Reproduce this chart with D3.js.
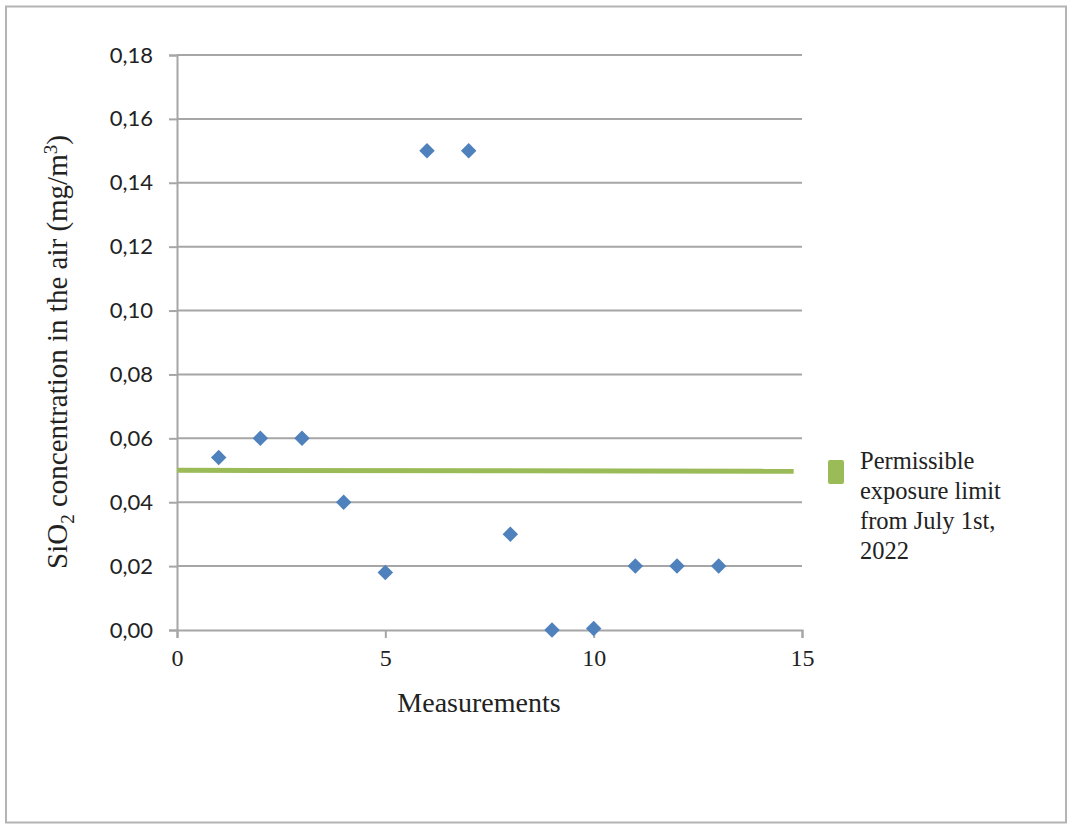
<!DOCTYPE html>
<html>
<head>
<meta charset="utf-8">
<script src="https://cdn.jsdelivr.net/npm/d3@7"></script>
<style>
  body { margin: 0; background: white; }
</style>
</head>
<body>
<div class="chart"></div>
<script>
// measurement number and SiO2 concentration (mg/m3)
const measurements = [1, 2, 3, 4, 5, 6, 7, 8, 9, 10, 11, 12, 13];
const concentration = [0.054, 0.06, 0.06, 0.04, 0.018, 0.15, 0.15, 0.03, 0.0, 0.0005, 0.02, 0.02, 0.02];
// permissible exposure limit line
const limitX = [0, 14.8];
const limitY = [0.05, 0.0497];
const xTicks = [0, 5, 10, 15];
const yTicks = [0, 0.02, 0.04, 0.06, 0.08, 0.10, 0.12, 0.14, 0.16, 0.18];
const legendLines = ['Permissible', 'exposure limit', 'from July 1st,', '2022'];

const width = 1073;
const height = 829;

const svg = d3
  .select('.chart')
  .append('svg')
  .attr('width', width)
  .attr('height', height);

svg
  .append('rect')
  .attr('x', 6)
  .attr('y', 6.5)
  .attr('width', 1060)
  .attr('height', 816)
  .attr('fill', 'white')
  .attr('stroke', '#b4b4b4')
  .attr('stroke-width', 2);

const x = d3.scaleLinear().domain([0, 15]).range([177, 802]);
const y = d3.scaleLinear().domain([0, 0.18]).range([630, 55]);

// gridlines
svg
  .append('g')
  .selectAll('line')
  .data(yTicks.slice(1))
  .enter()
  .append('line')
  .attr('x1', x(0))
  .attr('x2', x(15))
  .attr('y1', (d) => y(d))
  .attr('y2', (d) => y(d))
  .attr('stroke', '#a6a6a6')
  .attr('stroke-width', 2);

const fmt = (d) => d3.format('.2f')(d).replace('.', ',');

const yAxis = svg
  .append('g')
  .attr('transform', 'translate(' + x(0) + ',0)')
  .call(d3.axisLeft(y).tickValues(yTicks).tickFormat(fmt).tickSize(8).tickPadding(16));

const xAxis = svg
  .append('g')
  .attr('transform', 'translate(0,' + y(0) + ')')
  .call(d3.axisBottom(x).tickValues(xTicks).tickSize(8).tickPadding(11));

[yAxis, xAxis].forEach((a) => {
  a.select('.domain').attr('stroke', '#a6a6a6').attr('stroke-width', 2);
  a.selectAll('.tick line').attr('stroke', '#a6a6a6').attr('stroke-width', 2);
});

yAxis
  .selectAll('.tick text')
  .attr('fill', '#222')
  .style('font-family', 'Lato, "Noto Sans", sans-serif')
  .style('font-size', '22px');

xAxis
  .selectAll('.tick text')
  .attr('fill', '#222')
  .style('font-family', '"Liberation Serif", serif')
  .style('font-size', '24px');

// limit line
const limitData = limitX.map((d, i) => [d, limitY[i]]);
svg
  .append('path')
  .datum(limitData)
  .attr('d', d3.line().x((d) => x(d[0])).y((d) => y(d[1])))
  .attr('stroke', '#9bbb59')
  .attr('stroke-width', 5)
  .attr('fill', 'none');

// markers
const points = measurements.map((d, i) => ({ m: d, c: concentration[i] }));
svg
  .append('g')
  .selectAll('path')
  .data(points)
  .enter()
  .append('path')
  .attr('d', d3.symbol().type(d3.symbolSquare).size(120))
  .attr('transform', (d) => 'translate(' + x(d.m) + ',' + y(d.c) + ') rotate(45)')
  .attr('fill', '#4f81bd');

// axis titles
svg
  .append('text')
  .attr('x', 479)
  .attr('y', 712)
  .attr('text-anchor', 'middle')
  .style('font-family', '"Liberation Serif", serif')
  .style('font-size', '28px')
  .attr('fill', '#222')
  .text('Measurements');

const yTitle = svg
  .append('text')
  .attr('transform', 'translate(67,352) rotate(-90)')
  .attr('text-anchor', 'middle')
  .style('font-family', '"Liberation Serif", serif')
  .style('font-size', '29px')
  .attr('fill', '#222');
yTitle.append('tspan').text('SiO');
yTitle.append('tspan').attr('dy', 7).style('font-size', '19px').text('2');
yTitle.append('tspan').attr('dy', -7).text(' concentration in the air (mg/m');
yTitle.append('tspan').attr('dy', -10).style('font-size', '19px').text('3');
yTitle.append('tspan').attr('dy', 10).text(')');

// legend
const legend = svg.append('g').attr('transform', 'translate(828,460)');
legend
  .append('rect')
  .attr('width', 16)
  .attr('height', 24)
  .attr('rx', 2)
  .attr('fill', '#9bbb59');
legend
  .selectAll('text')
  .data(legendLines)
  .enter()
  .append('text')
  .attr('x', 32)
  .attr('y', (d, i) => 9 + i * 30)
  .style('font-family', '"Liberation Serif", serif')
  .style('font-size', '24.5px')
  .attr('fill', '#222')
  .text((d) => d);
</script>
</body>
</html>
